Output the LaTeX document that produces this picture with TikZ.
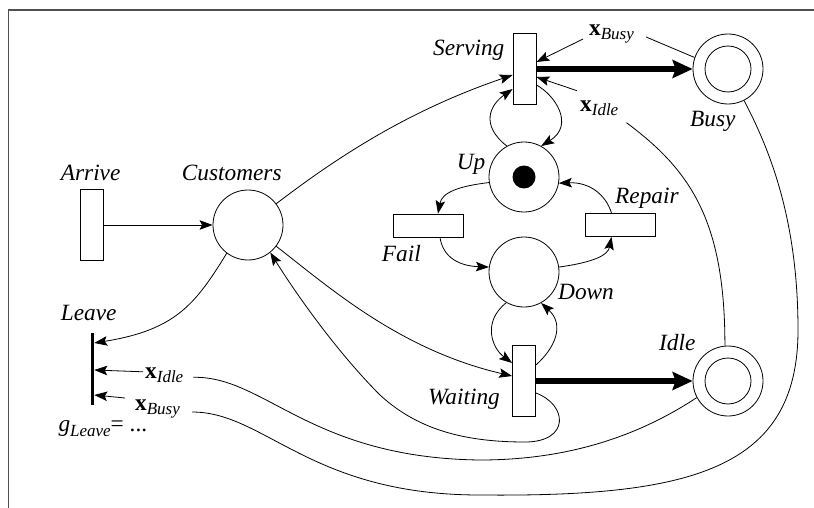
\documentclass[tikz,border=0pt]{standalone}
\usepackage{fontspec}
\setmainfont{Liberation Serif}
\usetikzlibrary{arrows.meta,calc}
\definecolor{framegray}{RGB}{80,80,80}
% bold state vector with an italic subscript
\newcommand\xsub[1]{{\upshape\bfseries x}\raisebox{-4pt}{\fontsize{17}{17}\selectfont\itshape #1}}
\begin{document}
\begin{tikzpicture}[x=1pt,y=-1pt,
  trans/.style={draw, line width=0.8pt, rectangle, inner sep=0pt, minimum width=23pt, minimum height=71pt},
  htrans/.style={draw, line width=0.8pt, rectangle, inner sep=0pt, minimum width=70pt, minimum height=23pt},
  place/.style={draw, line width=0.8pt, circle, inner sep=0pt, minimum size=70pt},
  dplace/.style={place, path picture={\draw[line width=0.8pt] (path picture bounding box.center) circle[radius=23pt];}},
  tplace/.style={place, path picture={\fill (path picture bounding box.center) circle[radius=11.5pt];}},
  lbl/.style={inner sep=0pt, anchor=base west, font=\fontsize{23.3}{28}\selectfont\itshape},
  arc/.style={line width=0.8pt, -{Stealth[length=13pt,width=9.5pt,inset=2.5pt]}},
  plainarc/.style={line width=0.8pt},
  heavyarc/.style={line width=6.5pt, -{Stealth[length=20pt,width=18pt,inset=3pt]}}]
\useasboundingbox (0,0) rectangle (814,508);
\draw[line width=1.5pt, framegray] (8.5,508) -- (8.5,10) -- (814,10);

% places and transitions
\node[trans] (arrive) at (92,225) {};
\node[place] (customers) at (248,225) {};
\node[fill=black, inner sep=0pt, minimum width=3.5pt, minimum height=72pt] (leave) at (92.3,369) {};
\node[trans] (serving) at (524.5,69) {};
\node[dplace] (busy) at (728,69) {};
\node[tplace] (up) at (524,177) {};
\node[htrans] (fail) at (428,225.5) {};
\node[htrans] (repair) at (620.5,225) {};
\node[place] (down) at (524,272) {};
\node[trans] (waiting) at (524,381) {};
\node[dplace] (idle) at (728,381) {};

% labels
\node[lbl] (lserving) at (433,56) {Serving};
\node[lbl] (lbusy) at (690,126.7) {Busy};
\node[lbl] (lup) at (456.7,170) {Up};
\node[lbl] (lrepair) at (615,204) {Repair};
\node[lbl] (lfail) at (381.7,261.7) {Fail};
\node[lbl] (ldown) at (558,299.3) {Down};
\node[lbl] (lidle) at (659,350) {Idle};
\node[lbl] (lwaiting) at (428,404) {Waiting};
\node[lbl] (larrive) at (60.7,180) {Arrive};
\node[lbl] (lcustomers) at (181.7,180.7) {Customers};
\node[lbl] (lleave) at (60.7,320) {Leave};
\node[lbl] (xbusyS) at (589,36) {\xsub{Busy}};
\node[lbl] (xidleS) at (580,111.7) {\xsub{Idle}};
\node[lbl] (xidleL) at (145,378.3) {\xsub{Idle}};
\node[lbl] (xbusyL) at (135,410) {\xsub{Busy}};
\node[lbl] (gleave) at (58.3,431.7) {g\raisebox{-5pt}{\fontsize{17}{17}\selectfont Leave}{\upshape= ...}};

% customer flow
\draw[arc] (arrive) -- (customers);
\draw[arc] (customers.37) .. controls (340,155) and (410,110) .. ($(serving.west)+(0,6)$);
\draw[arc] (customers.-127) .. controls (195,305) and (175,330) .. ($(leave.east)+(0,-26)$);
\draw[arc] (customers.-37) .. controls (330,288) and (400,350) .. ($(waiting.west)+(0,-5)$);
\draw[arc] ($(waiting.east)+(0,12)$) .. controls (568,405) and (570,442) .. (525,442)
  .. controls (470,442) and (420,432) .. (380,395)
  .. controls (340,355) and (300,300) .. (customers.-51);

% server state
\draw[heavyarc] (serving.east) -- (busy.west);
\draw[heavyarc] (waiting.east) -- (idle.west);
\draw[arc] ($(xbusyS.base west)+(-6,3)$) -- ($(serving.east)+(0,-7)$);
\draw[plainarc] ($(xbusyS.base east)+(12,1)$) -- (busy.161);
\draw[arc] ($(xidleS.base west)+(-3,-21)$) -- ($(serving.east)+(0,8)$);
\draw[plainarc] ($(xidleS.base east)+(8,11)$) .. controls (690,170) and (725,220) .. (idle.95);

% guard of Leave
\draw[arc] ($(xidleL.base west)+(-2,-6.5)$) -- ($(leave.east)+(0,1)$);
\draw[arc] ($(xbusyL.base west)+(-10,-12)$) -- ($(leave.east)+(0,26)$);
\draw[plainarc] ($(xidleL.base east)+(10,-1)$) .. controls (265,376) and (310,458) .. (480,460)
  .. controls (570,460) and (640,435) .. (idle.-152);
\draw[plainarc] ($(xbusyL.base east)+(12,2)$) .. controls (265,412) and (310,495) .. (480,495)
  .. controls (690,497) and (798,470) .. (798,330)
  .. controls (798,220) and (770,150) .. (busy.-63);

% up/down cycle
\draw[arc] (up.119) .. controls (480,125) and (490,105) .. ($(serving.west)+(0,20)$);
\draw[arc] ($(serving.east)+(0,16)$) .. controls (555,95) and (575,125) .. (up.61);
\draw[arc] (up.189) .. controls (460,186) and (442,192) .. ($(fail.north)+(10,0)$);
\draw[arc] ($(repair.north)+(-9,0)$) .. controls (606,195) and (590,182) .. (up.-10);
\draw[arc] ($(fail.south)+(12,0)$) .. controls (443,258) and (460,266) .. (down.172);
\draw[arc] (down.8) .. controls (595,262) and (608,255) .. ($(repair.south)+(-9,0)$);
\draw[arc] (down.-120) .. controls (482,322) and (492,348) .. ($(waiting.west)+(0,-18)$);
\draw[arc] ($(waiting.east)+(0,-16)$) .. controls (555,348) and (565,325) .. (down.-61);
\end{tikzpicture}
\end{document}
